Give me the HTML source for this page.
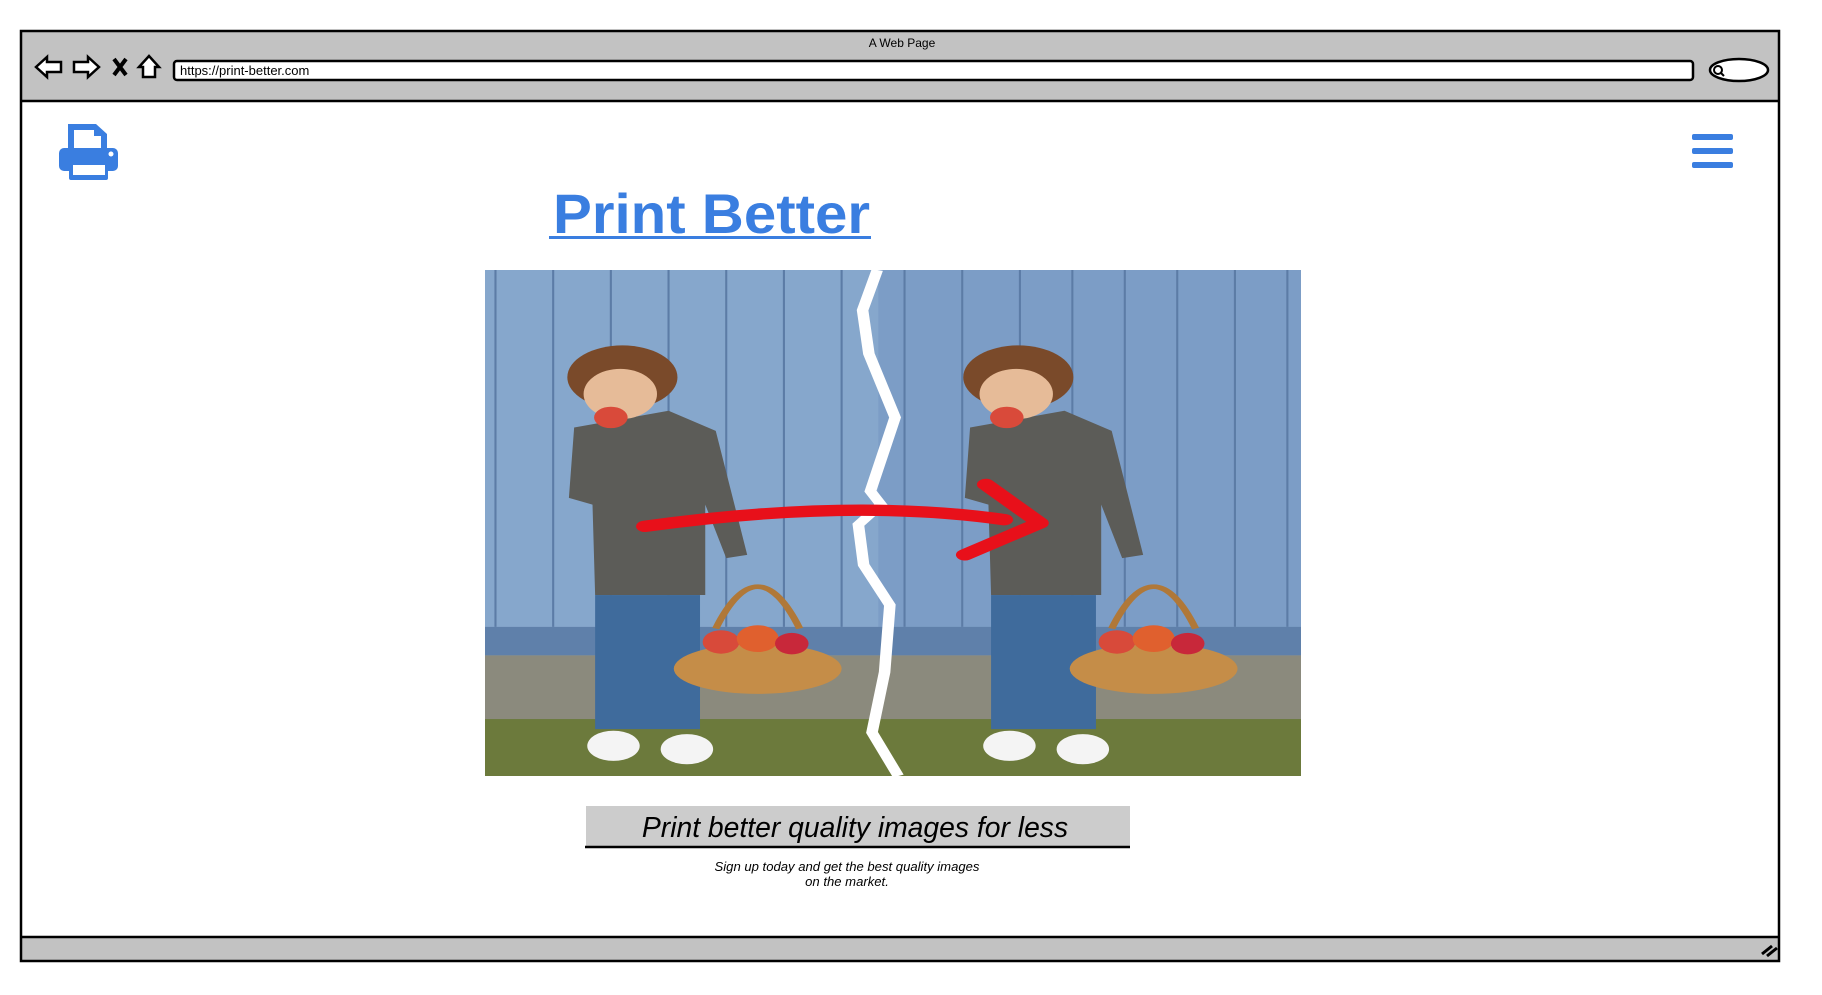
<!DOCTYPE html>
<html><head><meta charset="utf-8"><style>
html,body{margin:0;padding:0;background:#fff;width:1822px;height:995px;overflow:hidden}
svg{position:absolute;left:0;top:0}
</style></head><body>
<svg width="1822" height="995" viewBox="0 0 1822 995" xmlns="http://www.w3.org/2000/svg" font-family="Liberation Sans, sans-serif">
<!-- frame -->
<rect x="21" y="31" width="1758" height="930" fill="#fff"/>
<rect x="21" y="31" width="1758" height="70" fill="#c2c2c2"/>
<line x1="21" y1="101" x2="1779" y2="101" stroke="#000" stroke-width="2.5"/>
<rect x="21" y="937" width="1758" height="24" fill="#c2c2c2"/>
<line x1="21" y1="937" x2="1779" y2="937" stroke="#000" stroke-width="2.5"/>
<rect x="21" y="31" width="1758" height="930" fill="none" stroke="#000" stroke-width="2.5"/>
<path d="M1762 954 L1772 946 M1767 956 L1777 948" stroke="#000" stroke-width="3"/>
<text x="902" y="47" font-size="12" text-anchor="middle">A Web Page</text>
<!-- nav icons -->
<path d="M36 67 L47 57 L47 62 L61 62 L61 72 L47 72 L47 77 Z" fill="#fff" stroke="#000" stroke-width="2.5"/>
<path d="M99 67 L88 57 L88 62 L74 62 L74 72 L88 72 L88 77 Z" fill="#fff" stroke="#000" stroke-width="2.5"/>
<path d="M114 59 L126 75 M126 59 L114 75" stroke="#000" stroke-width="4"/>
<path d="M139 67 L149 56 L159 67 L155 67 L155 77 L143 77 L143 67 Z" fill="#fff" stroke="#000" stroke-width="2.5"/>
<rect x="174" y="61" width="1519" height="19" rx="3" fill="#fff" stroke="#000" stroke-width="2.5"/>
<text x="180" y="75" font-size="13">https://print-better.com</text>
<ellipse cx="1739" cy="70" rx="29" ry="11" fill="#fff" stroke="#000" stroke-width="2.5"/>
<circle cx="1718" cy="70" r="4" fill="none" stroke="#000" stroke-width="2"/>
<line x1="1721" y1="73" x2="1724" y2="76" stroke="#000" stroke-width="2"/>
<!-- printer icon -->
<g fill="#3a7ee0">
<path d="M68 124 L96 124 L107 134 L107 152 L68 152 Z"/>
<rect x="59" y="148" width="59" height="23" rx="5"/>
<rect x="69" y="165" width="39" height="15" rx="2"/>
</g>
<rect x="73" y="165" width="32" height="10" fill="#fff"/>
<path d="M74 130 L94 130 L94 136 L101 136 L101 148 L74 148 Z" fill="#fff"/>
<circle cx="111" cy="154" r="2.5" fill="#fff"/>
<!-- hamburger -->
<g fill="#3a7ee0"><rect x="1692" y="134" width="41" height="6" rx="2"/><rect x="1692" y="148" width="41" height="6" rx="2"/><rect x="1692" y="162" width="41" height="6" rx="2"/></g>
<!-- title -->
<text x="553" y="233" font-size="56" font-weight="bold" fill="#3a7ee0" textLength="317" lengthAdjust="spacingAndGlyphs">Print Better</text>
<rect x="549" y="236" width="322" height="3" fill="#3a7ee0"/>
<!-- image -->
<svg x="485" y="270" width="816" height="506" viewBox="0 0 1556 1510" preserveAspectRatio="none">
<rect width="1556" height="1510" fill="#7c9dc6"/>
<rect x="0" width="750" height="1510" fill="#86a7cc"/>
<g stroke="#5c7ca6" stroke-width="4">
<path d="M20 0V1065M130 0V1065M240 0V1065M350 0V1065M460 0V1065M570 0V1065M680 0V1065M800 0V1065M910 0V1065M1020 0V1065M1120 0V1065M1220 0V1065M1320 0V1065M1430 0V1065M1530 0V1065"/>
</g>
<rect y="1065" width="1556" height="85" fill="#5f80aa"/>
<rect y="1150" width="1556" height="190" fill="#8b8a7d"/>
<rect y="1340" width="1556" height="170" fill="#6c7a3c"/>
<g id="kid">
<path d="M170 470 L350 420 L440 480 L500 850 L460 860 L420 700 L420 970 L210 970 L205 700 L160 680 Z" fill="#5c5c58"/>
<ellipse cx="262" cy="320" rx="105" ry="95" fill="#7a4a2a"/>
<ellipse cx="258" cy="370" rx="70" ry="75" fill="#e6bb98"/>
<circle cx="240" cy="440" r="32" fill="#d94a3a"/>
<rect x="210" y="970" width="200" height="400" fill="#3f6b9c"/>
<ellipse cx="245" cy="1420" rx="50" ry="45" fill="#f4f4f4"/>
<ellipse cx="385" cy="1430" rx="50" ry="45" fill="#f4f4f4"/>
<path d="M440 1070 Q520 820 600 1070" fill="none" stroke="#b07838" stroke-width="14"/>
<ellipse cx="520" cy="1190" rx="160" ry="75" fill="#c58d48"/>
<circle cx="450" cy="1110" r="35" fill="#d84a3a"/><circle cx="520" cy="1100" r="40" fill="#e0602e"/><circle cx="585" cy="1115" r="32" fill="#c8283a"/>
</g>
<use href="#kid" x="755"/>
<path d="M748 0 L720 120 L732 250 L782 440 L735 660 L755 700 L712 760 L722 880 L772 1000 L762 1200 L738 1380 L788 1510" fill="none" stroke="#fff" stroke-width="22"/>
<g fill="none" stroke="#e8101a" stroke-width="34" stroke-linecap="round" stroke-linejoin="round">
<path d="M305 765 Q700 680 990 745"/>
<path d="M955 640 L1058 755 L915 850"/>
</g>
</svg>
<!-- caption -->
<rect x="586" y="806" width="544" height="41" fill="#cccccc"/>
<line x1="585" y1="847" x2="1130" y2="847" stroke="#000" stroke-width="2.5"/>
<text x="855" y="837" font-size="28.3" font-style="italic" text-anchor="middle">Print better quality images for less</text>
<text x="847" y="871" font-size="13.1" font-style="italic" text-anchor="middle">Sign up today and get the best quality images</text>
<text x="847" y="886" font-size="13.1" font-style="italic" text-anchor="middle">on the market.</text>
</svg>
</body></html>
